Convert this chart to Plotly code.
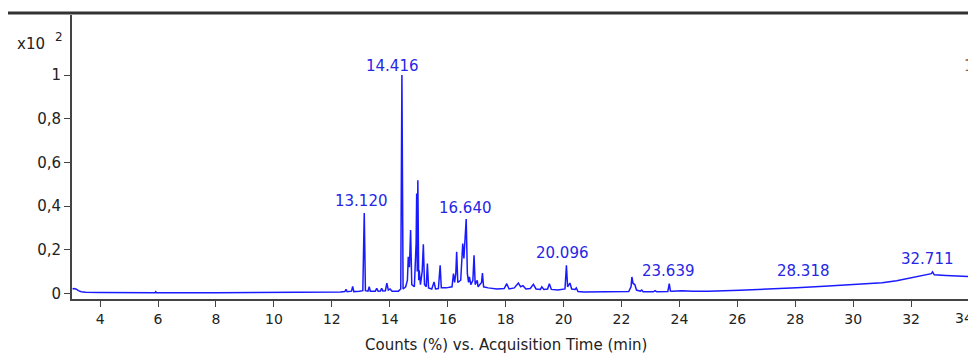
import plotly.graph_objects as go

# Retention time (min) and relative counts (x10^2 %)
rt = [3.05, 3.10, 3.18, 3.25, 3.35, 3.50, 4.00, 4.50, 4.60, 4.80, 5.00, 5.10, 5.90, 5.92, 5.95,
      8.00, 10.00, 12.00, 12.30, 12.45, 12.49, 12.53, 12.68, 12.72, 12.76, 12.95, 13.07, 13.12, 13.16,
      13.25, 13.29, 13.33, 13.50, 13.55, 13.60, 13.68, 13.72, 13.76, 13.85, 13.90, 13.95, 14.01, 14.08,
      14.30, 14.38, 14.42, 14.46, 14.55, 14.61, 14.64, 14.68, 14.72, 14.76, 14.85, 14.91, 14.93,
      14.95, 14.97, 15.00, 15.02, 15.06, 15.12, 15.16, 15.20, 15.26, 15.30, 15.34, 15.45, 15.53, 15.58,
      15.68, 15.74, 15.78, 15.95, 16.15, 16.20, 16.24, 16.28, 16.31, 16.35, 16.45, 16.52, 16.56, 16.60,
      16.64, 16.68, 16.72, 16.75, 16.80, 16.87, 16.91, 16.95, 17.02, 17.05, 17.10, 17.17, 17.20, 17.24,
      17.40, 17.70, 17.95, 18.04, 18.12, 18.30, 18.44, 18.52, 18.60, 18.70, 18.85, 18.96, 19.05, 19.20,
      19.25, 19.32, 19.45, 19.51, 19.58, 19.80, 20.05, 20.10, 20.14, 20.18, 20.22, 20.28, 20.40, 20.44,
      20.50, 20.70, 21.50, 22.25, 22.33, 22.36, 22.40, 22.46, 22.52, 22.65, 22.70, 22.75, 23.10, 23.16,
      23.22, 23.60, 23.65, 23.69, 23.75, 24.08, 24.48, 25.00, 26.09, 27.00, 28.05, 29.00, 30.05, 31.00,
      31.50, 32.04, 32.40, 32.70, 32.74, 32.80, 33.20, 33.60, 34.03, 34.30]
counts = [0.020, 0.022, 0.019, 0.012, 0.007, 0.005, 0.004, 0.003, 0.004, 0.003, 0.004, 0.003, 0.003, 0.007, 0.003,
          0.003, 0.003, 0.004, 0.006, 0.008, 0.018, 0.007, 0.010, 0.032, 0.008, 0.010, 0.012, 0.368, 0.012,
          0.010, 0.030, 0.010, 0.010, 0.023, 0.010, 0.011, 0.023, 0.011, 0.012, 0.047, 0.015, 0.020, 0.010,
          0.010, 0.020, 1.000, 0.020, 0.030, 0.060, 0.167, 0.120, 0.290, 0.040, 0.030, 0.230, 0.457,
          0.100, 0.518, 0.060, 0.105, 0.040, 0.100, 0.225, 0.040, 0.030, 0.136, 0.025, 0.020, 0.052, 0.020,
          0.022, 0.128, 0.025, 0.025, 0.030, 0.090, 0.050, 0.090, 0.190, 0.050, 0.060, 0.228, 0.160, 0.235,
          0.340, 0.090, 0.050, 0.075, 0.040, 0.060, 0.174, 0.040, 0.060, 0.030, 0.040, 0.050, 0.093, 0.030,
          0.025, 0.020, 0.022, 0.044, 0.020, 0.025, 0.047, 0.030, 0.035, 0.020, 0.022, 0.041, 0.020, 0.018,
          0.030, 0.018, 0.020, 0.044, 0.018, 0.015, 0.020, 0.128, 0.030, 0.040, 0.047, 0.020, 0.018, 0.025,
          0.008, 0.006, 0.006, 0.008, 0.030, 0.075, 0.045, 0.040, 0.015, 0.010, 0.015, 0.007, 0.007, 0.012,
          0.007, 0.008, 0.044, 0.010, 0.009, 0.012, 0.010, 0.010, 0.014, 0.018, 0.026, 0.032, 0.041, 0.048,
          0.058, 0.072, 0.082, 0.090, 0.098, 0.085, 0.082, 0.080, 0.075, 0.075]

peak_labels = ["13.120", "14.416", "16.640", "20.096", "23.639", "28.318", "32.711"]

x_tick_vals = [4, 6, 8, 10, 12, 14, 16, 18, 20, 22, 24, 26, 28, 30, 32, 34]
x_tick_text = [str(v) for v in x_tick_vals]
y_tick_vals = [0, 0.2, 0.4, 0.6, 0.8, 1]
y_tick_text = ["0", "0,2", "0,4", "0,6", "0,8", "1"]

# label anchor positions (layout, in axis units)
label_pos_x = [13.04, 14.11, 16.63, 19.98, 23.61, 28.27, 32.58]
label_pos_y = [0.422, 1.041, 0.39, 0.183, 0.101, 0.101, 0.156]

BLUE = "#1a1aff"
TXT = "#222222"
FONT = "DejaVu Sans, Liberation Sans, Arial, sans-serif"

OFF = 8  # default page body margin
W, H = 976 - OFF, 354 - OFF
ML, MT = 72 - OFF, 15 - OFF
MR = 0
MB = H - (299 - OFF)
PW, PH = W - ML - MR, H - MT - MB


def px(xs):
    return (xs - OFF - ML) / PW


def py(ys):
    return (H - MB - (ys - OFF)) / PH


# the last tick label sits at the right edge; draw it as a right-aligned text so it stays whole
shown_tick_text = x_tick_text[:-1] + [""]

fig = go.Figure()
fig.add_trace(go.Scatter(x=rt, y=counts, mode="lines",
                         line=dict(color=BLUE, width=1.5), hoverinfo="x+y"))

for lab, xv, yv in zip(peak_labels, label_pos_x, label_pos_y):
    fig.add_annotation(x=xv, y=yv, text=lab, showarrow=False, xref="x", yref="y",
                       font=dict(family=FONT, size=15, color="#2626e6"),
                       xanchor="center", yanchor="middle")

fig.update_layout(
    width=W, height=H,
    margin=dict(l=ML, r=MR, t=MT, b=MB, autoexpand=False),
    paper_bgcolor="white", plot_bgcolor="white",
    showlegend=False,
    font=dict(family=FONT, size=15, color=TXT),
    xaxis=dict(range=[3.03, 34.24], tickvals=x_tick_vals, ticktext=shown_tick_text,
               showgrid=False, zeroline=False, showline=True, linecolor="#444", linewidth=2,
               ticks="outside", ticklen=6, tickcolor="#444", tickwidth=1,
               tickfont=dict(size=14, color=TXT), automargin=False),
    yaxis=dict(range=[-0.026, 1.275], tickvals=y_tick_vals, ticktext=y_tick_text,
               showgrid=False, zeroline=False, showline=True, linecolor="#444", linewidth=2,
               ticks="outside", ticklen=6, tickcolor="#444", tickwidth=1,
               tickfont=dict(size=15, color=TXT), automargin=False),
)

# last x tick label, kept inside the page
fig.add_annotation(xref="paper", yref="paper", x=px(975), y=py(318), text=x_tick_text[-1],
                   showarrow=False, xanchor="right", yanchor="middle",
                   font=dict(size=14, color=TXT))

# x-axis title
fig.add_annotation(xref="paper", yref="paper", x=px(506), y=py(345),
                   text="Counts (%) vs. Acquisition Time (min)", showarrow=False,
                   xanchor="center", yanchor="middle", font=dict(size=15, color=TXT))

# top frame line
fig.add_shape(type="line", xref="paper", yref="paper", x0=px(8), x1=px(976), y0=py(13), y1=py(13),
              line=dict(color="#333", width=3))

# multiplier label
fig.add_annotation(xref="paper", yref="paper", x=px(15), y=py(44), text="x10",
                   showarrow=False, xanchor="left", yanchor="middle",
                   font=dict(size=15, color=TXT))
fig.add_annotation(xref="paper", yref="paper", x=px(53), y=py(37), text="2",
                   showarrow=False, xanchor="left", yanchor="middle",
                   font=dict(size=12, color=TXT))
# label at right edge (partly hidden in reference)
fig.add_annotation(xref="paper", yref="paper", x=px(976), y=py(66), text="1",
                   showarrow=False, xanchor="right", yanchor="middle",
                   font=dict(size=15, color="#a05a1e"))

fig.write_html("out.html")
